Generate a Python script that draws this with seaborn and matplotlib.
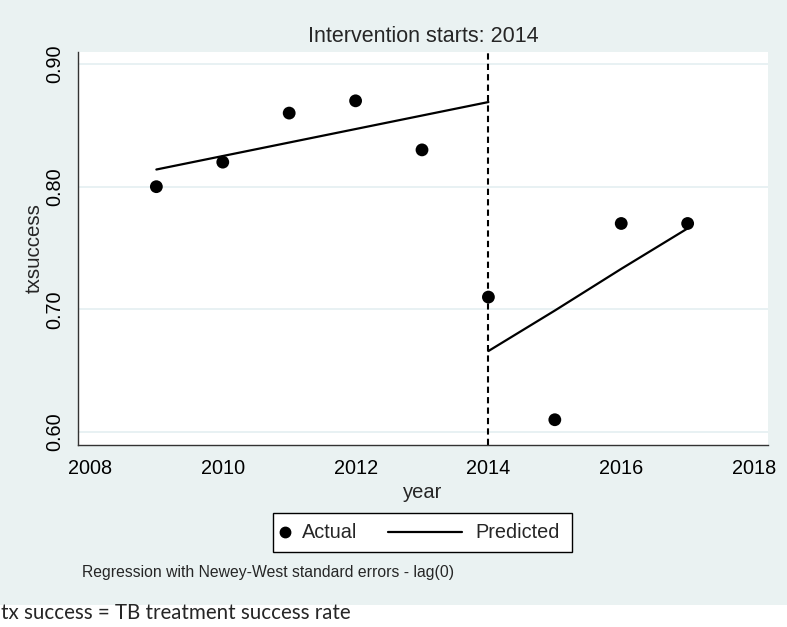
import numpy as np
import pandas as pd
import matplotlib
matplotlib.use("Agg")
import matplotlib.pyplot as plt
from matplotlib.patches import Rectangle
from matplotlib.lines import Line2D
import seaborn as sns

# observed treatment success rate
years = [2009, 2010, 2011, 2012, 2013, 2014, 2015, 2016, 2017]
txsuccess = [0.80, 0.82, 0.86, 0.87, 0.83, 0.71, 0.61, 0.77, 0.77]

# fitted segments (pre / post intervention)
pre_years = [2009, 2010, 2011, 2012, 2013, 2014]
pre_pred = [0.814, 0.825, 0.836, 0.847, 0.858, 0.869]
post_years = [2014, 2015, 2016, 2017]
post_pred = [0.666, 0.699, 0.733, 0.766]

intervention = 2014
xticks = [2008, 2010, 2012, 2014, 2016, 2018]
yticks = [0.60, 0.70, 0.80, 0.90]
legend_labels = ["Actual", "Predicted"]

obs = pd.DataFrame({"year": years, "txsuccess": txsuccess})
pre = pd.DataFrame({"year": pre_years, "pred": pre_pred})
post = pd.DataFrame({"year": post_years, "pred": post_pred})

sns.set_theme(style="white")
plt.rcParams["font.family"] = ["Liberation Sans", "DejaVu Sans"]

bg = "#eaf2f2"
W, H = 787, 627
fig = plt.figure(figsize=(W / 100, H / 100), dpi=100)
fig.patch.set_facecolor("white")


def fx(px):
    return px / W


def fy(py):
    return 1 - py / H


fig.patches.append(Rectangle((0, fy(605)), 1, 605 / H, transform=fig.transFigure,
                             facecolor=bg, edgecolor="none", zorder=-10))

ax = fig.add_axes([fx(78), fy(445), (768 - 78) / W, (445 - 52) / H])
ax.set_facecolor("white")

for y in yticks:
    ax.axhline(y, color="#e4eff1", lw=1.2, zorder=0)

sns.scatterplot(data=obs, x="year", y="txsuccess", ax=ax, color="black", s=85,
                edgecolor="none", zorder=3, legend=False)
sns.lineplot(data=pre, x="year", y="pred", ax=ax, color="black", lw=1.6, zorder=2)
sns.lineplot(data=post, x="year", y="pred", ax=ax, color="black", lw=1.6, zorder=2)
ax.axvline(intervention, color="black", lw=1.5, ls=(0, (3, 2)), zorder=2)

ax.set_xlim(2007.82, 2018.21)
ax.set_ylim(0.5894, 0.9098)
ax.set_xticks(xticks)
ax.set_yticks(yticks)
ax.set_yticklabels([f"{v:.2f}" for v in yticks], rotation=90, va="center")
ax.tick_params(axis="both", direction="out", length=6, width=1, color="#333333",
               labelsize=14.3, labelcolor="black", pad=4)
for s in ["top", "right"]:
    ax.spines[s].set_visible(False)
for s in ["left", "bottom"]:
    ax.spines[s].set_color("#333333")
    ax.spines[s].set_linewidth(1.0)

ax.set_xlabel("year", fontsize=14.5, labelpad=4)
ax.set_ylabel("txsuccess", fontsize=14.8, labelpad=1)
ax.set_title("Intervention starts: 2014", fontsize=15.5, pad=7)

# legend box drawn in figure space (Stata style: marker tight to its label)
fig.patches.append(Rectangle((fx(273), fy(552)), (572 - 273) / W, (552 - 513) / H,
                             transform=fig.transFigure, facecolor="white",
                             edgecolor="black", lw=1.0, zorder=5))
fig.lines.append(Line2D([fx(285)], [fy(532)], marker="o", color="black", ls="none",
                        markersize=7.5, transform=fig.transFigure, zorder=6))
fig.lines.append(Line2D([fx(388), fx(462)], [fy(532), fy(532)], color="black", lw=1.6,
                        transform=fig.transFigure, zorder=6))
fig.text(fx(302), fy(532), legend_labels[0], fontsize=14.3, va="center", ha="left", zorder=6)
fig.text(fx(475), fy(532), legend_labels[1], fontsize=14.3, va="center", ha="left", zorder=6)

fig.text(fx(82), fy(572), "Regression with Newey-West standard errors - lag(0)",
         fontsize=11.3, va="center", ha="left")
fig.text(fx(1), fy(613), "tx success = TB treatment success rate",
         fontsize=14.8, va="center", ha="left", family=["Lato", "DejaVu Sans"])

fig.savefig("out.png", dpi=100, facecolor=fig.get_facecolor())
